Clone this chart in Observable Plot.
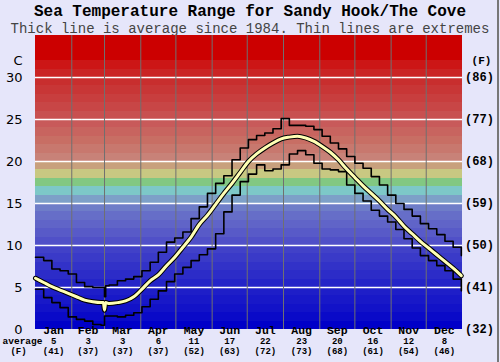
<!DOCTYPE html>
<html><head><meta charset="utf-8">
<script src="https://cdn.jsdelivr.net/npm/d3@7"></script>
<script src="https://cdn.jsdelivr.net/npm/@observablehq/plot@0.6"></script>
<style>
body{margin:0;}
#wrap{position:relative;width:500px;height:362px;background:#e6e6fa;overflow:hidden;}
#title{position:absolute;top:3px;left:0;width:500px;text-align:center;font:bold 16px "Liberation Mono",monospace;line-height:18px;color:#000;}
#sub{position:absolute;top:21px;left:0;width:500px;text-align:center;font:14px "Liberation Mono",monospace;line-height:16px;color:#444;}
#chart{position:absolute;top:35px;left:0;}
#edge{position:absolute;top:0;left:497px;width:2px;height:362px;background:#777;}
</style></head>
<body>
<div id="wrap">
<div id="title">Sea Temperature Range for Sandy Hook/The Cove</div>
<div id="sub">Thick line is average since 1984. Thin lines are extremes</div>
<div id="chart"></div>
<div id="edge"></div>
</div>
<script>
const monthNames = ["Jan","Feb","Mar","Apr","May","Jun","Jul","Aug","Sep","Oct","Nov","Dec"];
const monthAvgC = ["5","3","3","6","11","17","22","23","20","16","12","8"];
const monthAvgF = ["(41)","(37)","(37)","(37)","(52)","(63)","(72)","(73)","(68)","(61)","(54)","(46)"];
const monthStartDays = [0,31,59,90,120,151,181,212,243,273,304,334,365];
const celsiusTicks = [0,5,10,15,20,25,30];
const fahrenheitLabels = ["(32)","(41)","(50)","(59)","(68)","(77)","(86)"];

const days = [0,7,14,21,28,35,42,49,56,58,59,60,63,70,77,84,91,98,105,112,119,126,133,140,147,154,161,168,175,182,189,196,203,210,217,224,231,238,245,252,259,266,273,280,287,294,301,308,315,322,329,336,343,350,357,364];
const maxTemp = [8.6,8.2,7.2,7.0,6.6,5.6,5.1,5.0,5.0,5.0,3.9,5.2,5.3,5.8,6.0,6.3,7.0,8.0,9.2,10.4,10.9,11.6,13.2,14.6,16.2,17.4,18.3,20.2,21.6,22.6,23.1,23.4,23.9,25.1,24.3,24.3,24.2,23.8,23.0,22.2,21.5,20.6,19.8,19.2,18.2,17.2,16.0,15.0,14.3,13.5,12.6,12.0,11.3,10.5,9.8,8.8];
const avgTemp = [6.1,5.6,5.1,4.7,4.3,3.9,3.5,3.3,3.2,3.2,2.3,3.2,3.1,3.2,3.4,3.9,4.8,5.8,6.5,7.6,8.6,9.8,11.0,12.5,13.6,14.9,16.2,17.4,18.7,20.0,20.9,21.6,22.2,22.7,22.9,23.0,22.8,22.4,21.8,21.1,20.2,19.1,18.1,17.1,16.2,15.3,14.3,13.4,12.3,11.4,10.5,9.7,8.9,8.1,7.3,6.4];
const minTemp = [4.8,3.8,3.2,2.6,1.5,1.2,1.0,0.6,0.5,0.5,1.6,1.6,1.6,1.5,1.7,2.0,2.7,3.6,4.6,5.7,6.6,7.4,8.2,8.9,9.6,11.4,14.0,16.0,17.6,18.5,19.6,18.9,19.1,19.6,20.9,21.3,20.8,19.8,19.1,19.0,18.8,17.2,16.2,15.3,14.2,13.5,12.8,11.9,10.8,9.7,8.8,8.2,7.6,7.0,6.0,4.6];

// background band colours, one per degree from 0 to 35 (style)
const bandColors = [
 "rgb(0,0,200)","rgb(10,10,200)","rgb(18,18,200)","rgb(24,24,200)","rgb(30,30,200)",
 "rgb(36,36,200)","rgb(44,44,200)","rgb(50,50,200)","rgb(58,58,200)","rgb(65,65,200)",
 "rgb(80,80,200)","rgb(88,90,200)","rgb(96,100,200)","rgb(102,110,200)","rgb(110,125,200)",
 "rgb(125,160,200)","rgb(125,200,200)","rgb(130,200,130)","rgb(200,200,130)","rgb(200,160,125)",
 "rgb(200,130,120)","rgb(200,120,110)","rgb(200,110,100)","rgb(200,100,95)","rgb(200,90,90)",
 "rgb(200,80,80)","rgb(200,70,70)","rgb(200,62,62)","rgb(200,54,54)","rgb(200,46,46)",
 "rgb(202,36,36)","rgb(204,22,22)","rgb(204,0,0)","rgb(204,0,0)","rgb(204,0,0)"];
const bands = bandColors.map((c,i)=>({lo:i, hi:i+1, color:c}));

const series = (vals)=>days.map((d,i)=>({day:d, t:vals[i]}));
const maxData = series(maxTemp), avgData = series(avgTemp), minData = series(minTemp);
const months = monthNames.map((m,i)=>({name:m, mid:(monthStartDays[i]+monthStartDays[i+1])/2, c:monthAvgC[i], f:monthAvgF[i]}));
const cTicks = celsiusTicks.map((t,i)=>({t, f:fahrenheitLabels[i]}));

const mono = "'Liberation Mono', 'DejaVu Sans Mono', monospace";
const sans = "'DejaVu Sans', sans-serif";

const chart = Plot.plot({
  width: 500, height: 327,
  marginTop: 0, marginBottom: 33, marginLeft: 35, marginRight: 38,
  x: {domain: [0,365], axis: null},
  y: {domain: [0,35], axis: null},
  style: {background: "transparent", overflow: "visible"},
  marks: [
    Plot.rect(bands, {y1: "lo", y2: "hi", fill: "color", shapeRendering: "crispEdges"}),
    Plot.ruleY(celsiusTicks.slice(1), {stroke: "white", strokeWidth: 1.6}),
    Plot.ruleX(monthStartDays.slice(1,-1), {stroke: "#707070", strokeWidth: 1}),
    Plot.line(maxData, {x: "day", y: "t", curve: "step-after", stroke: "black", strokeWidth: 1.6}),
    Plot.line(minData, {x: "day", y: "t", curve: "step-after", stroke: "black", strokeWidth: 1.6}),
    Plot.line(avgData, {x: "day", y: "t", curve: "monotone-x", stroke: "black", strokeWidth: 5}),
    Plot.line(avgData, {x: "day", y: "t", curve: "monotone-x", stroke: "#ffffb4", strokeWidth: 3}),
    // left axis labels
    Plot.text(cTicks, {y: "t", text: d=>String(d.t), frameAnchor: "left", dx: -13, textAnchor: "end", fontFamily: sans, fontSize: 13, fill: "black"}),
    Plot.text(["C"], {y: ()=>32, text: d=>d, frameAnchor: "left", dx: -13, textAnchor: "end", fontFamily: sans, fontSize: 13, fill: "black"}),
    // right axis labels
    Plot.text(cTicks, {y: "t", text: "f", frameAnchor: "right", dx: 17, textAnchor: "middle", fontFamily: mono, fontWeight: "bold", fontSize: 12, fill: "black"}),
    Plot.text(["(F)"], {y: ()=>32, text: d=>d, frameAnchor: "right", dx: 19, textAnchor: "middle", fontFamily: mono, fontWeight: "bold", fontSize: 11, fill: "black"}),
    // month labels and averages
    Plot.text(months, {x: "mid", text: "name", frameAnchor: "bottom", dy: 4.5, fontFamily: mono, fontWeight: "bold", fontSize: 11.5, fill: "black"}),
    Plot.text(months, {x: "mid", text: "c", frameAnchor: "bottom", dy: 14.8, fontFamily: mono, fontWeight: "bold", fontSize: 9, fill: "black"}),
    Plot.text(months, {x: "mid", text: "f", frameAnchor: "bottom", dy: 24, fontFamily: mono, fontWeight: "bold", fontSize: 9, fill: "black"}),
    Plot.text(["average"], {text: d=>d, frameAnchor: "bottom-left", dx: -13, dy: 14.8, textAnchor: "middle", fontFamily: mono, fontWeight: "bold", fontSize: 9.5, fill: "black"}),
    Plot.text(["(F)"], {text: d=>d, frameAnchor: "bottom-left", dx: -17, dy: 24, textAnchor: "middle", fontFamily: mono, fontWeight: "bold", fontSize: 9, fill: "black"})
  ]
});
document.getElementById("chart").appendChild(chart);
</script>
</body></html>
